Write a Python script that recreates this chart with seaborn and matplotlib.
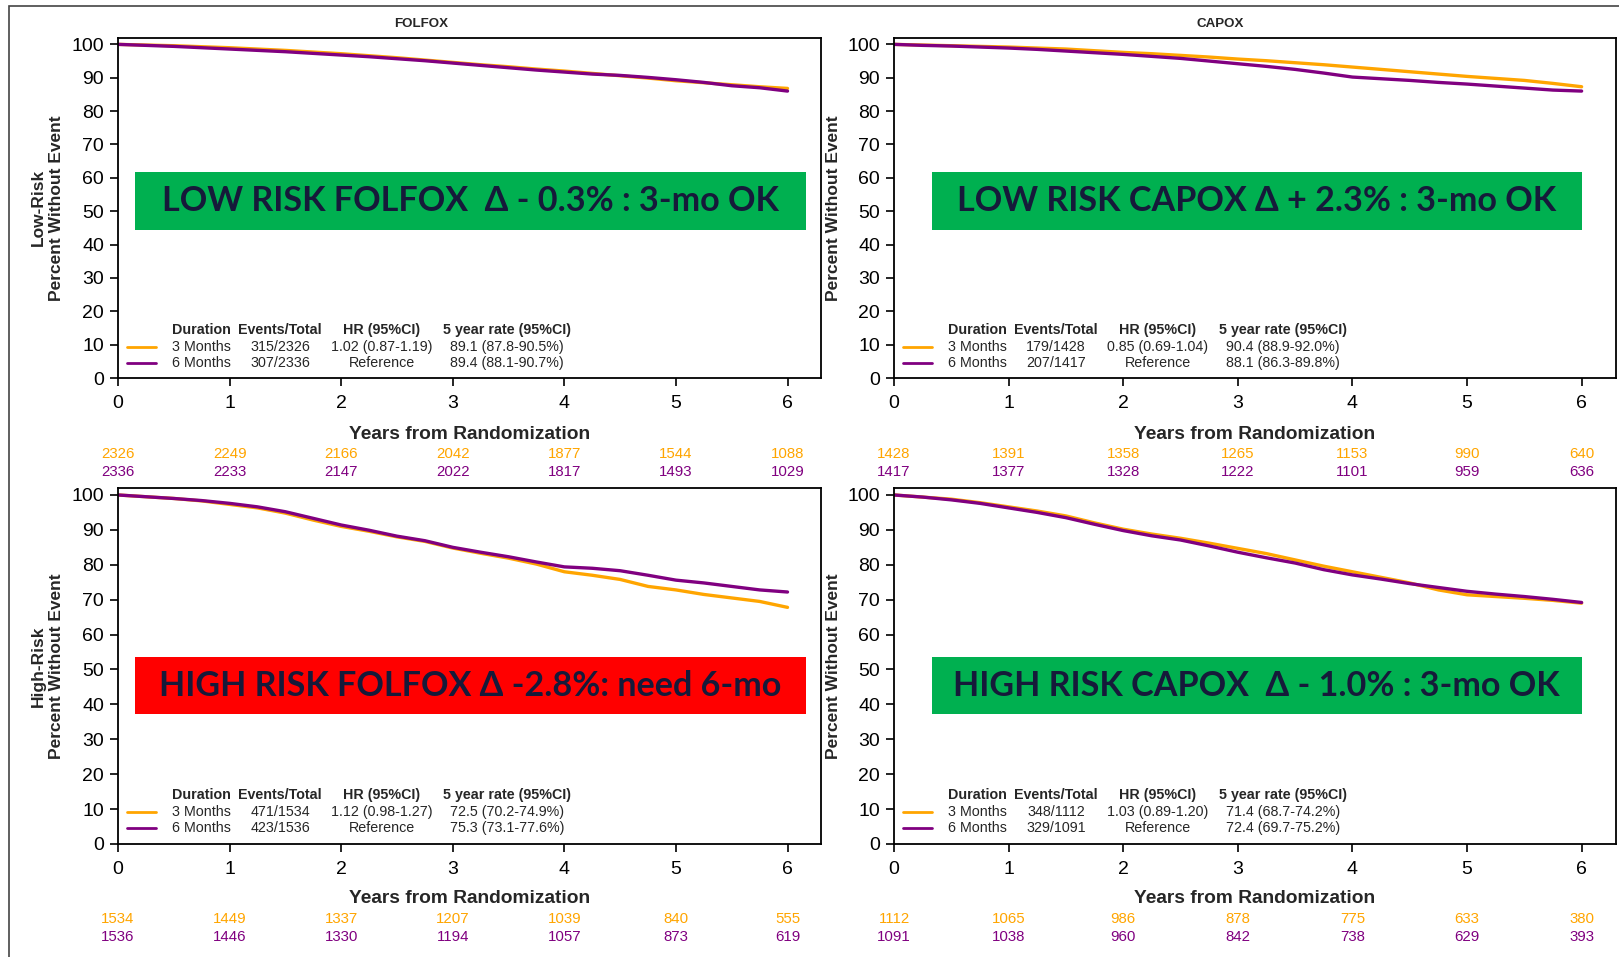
import matplotlib
matplotlib.use("Agg")
import matplotlib.pyplot as plt
from matplotlib.patches import Rectangle
import seaborn as sns

# survival, every quarter year
years = [0, 0.25, 0.5, 0.75, 1, 1.25, 1.5, 1.75, 2, 2.25, 2.5, 2.75, 3,
         3.25, 3.5, 3.75, 4, 4.25, 4.5, 4.75, 5, 5.25, 5.5, 5.75, 6]

folfox_low_3mo = [100, 99.8, 99.6, 99.3, 99.0, 98.6, 98.2, 97.7, 97.2, 96.6, 96.0, 95.3, 94.6,
                  93.9, 93.3, 92.6, 92.0, 91.3, 90.6, 89.9, 89.1, 88.5, 87.9, 87.3, 86.8]
folfox_low_6mo = [100, 99.7, 99.4, 99.0, 98.6, 98.2, 97.8, 97.3, 96.8, 96.3, 95.7, 95.1, 94.4,
                  93.7, 93.0, 92.3, 91.7, 91.1, 90.7, 90.1, 89.4, 88.6, 87.6, 87.0, 86.0]
capox_low_3mo = [100, 99.8, 99.6, 99.4, 99.2, 98.9, 98.6, 98.1, 97.6, 97.2, 96.7, 96.2, 95.6,
                 95.1, 94.5, 93.9, 93.2, 92.5, 91.8, 91.1, 90.4, 89.8, 89.2, 88.3, 87.3]
capox_low_6mo = [100, 99.7, 99.5, 99.2, 98.9, 98.5, 98.0, 97.5, 97.0, 96.4, 95.8, 95.0, 94.2,
                 93.4, 92.5, 91.4, 90.2, 89.7, 89.2, 88.6, 88.1, 87.5, 86.9, 86.3, 86.0]
folfox_high_3mo = [100, 99.5, 99.0, 98.3, 97.3, 96.3, 94.8, 92.8, 91.0, 89.6, 88.0, 86.7, 84.8,
                   83.3, 81.9, 80.2, 78.0, 77.0, 75.8, 73.8, 72.8, 71.5, 70.5, 69.5, 67.8]
folfox_high_6mo = [100, 99.5, 99.0, 98.4, 97.6, 96.6, 95.2, 93.3, 91.4, 89.9, 88.2, 86.9, 85.0,
                   83.6, 82.3, 80.8, 79.4, 79.0, 78.3, 77.0, 75.6, 74.8, 73.8, 72.8, 72.2]
capox_high_3mo = [100, 99.4, 98.8, 97.8, 96.6, 95.4, 94.0, 92.0, 90.2, 88.8, 87.6, 86.2, 84.7,
                  83.2, 81.4, 79.6, 78.0, 76.4, 74.8, 72.8, 71.4, 70.9, 70.4, 69.8, 69.0]
capox_high_6mo = [100, 99.4, 98.6, 97.6, 96.3, 95.0, 93.5, 91.6, 89.8, 88.3, 87.1, 85.4, 83.6,
                  82.0, 80.5, 78.6, 77.1, 75.9, 74.6, 73.5, 72.4, 71.6, 70.9, 70.1, 69.2]

# numbers at risk at years 0..6
risk_years = [0, 1, 2, 3, 4, 5, 6]
folfox_low_risk3 = [2326, 2249, 2166, 2042, 1877, 1544, 1088]
folfox_low_risk6 = [2336, 2233, 2147, 2022, 1817, 1493, 1029]
capox_low_risk3 = [1428, 1391, 1358, 1265, 1153, 990, 640]
capox_low_risk6 = [1417, 1377, 1328, 1222, 1101, 959, 636]
folfox_high_risk3 = [1534, 1449, 1337, 1207, 1039, 840, 555]
folfox_high_risk6 = [1536, 1446, 1330, 1194, 1057, 873, 619]
capox_high_risk3 = [1112, 1065, 986, 878, 775, 633, 380]
capox_high_risk6 = [1091, 1038, 960, 842, 738, 629, 393]

table_header = ["Duration", "Events/Total", "HR (95%CI)", "5 year rate (95%CI)"]
folfox_low_rows = [["3 Months", "315/2326", "1.02 (0.87-1.19)", "89.1 (87.8-90.5%)"],
                   ["6 Months", "307/2336", "Reference", "89.4 (88.1-90.7%)"]]
capox_low_rows = [["3 Months", "179/1428", "0.85 (0.69-1.04)", "90.4 (88.9-92.0%)"],
                  ["6 Months", "207/1417", "Reference", "88.1 (86.3-89.8%)"]]
folfox_high_rows = [["3 Months", "471/1534", "1.12 (0.98-1.27)", "72.5 (70.2-74.9%)"],
                    ["6 Months", "423/1536", "Reference", "75.3 (73.1-77.6%)"]]
capox_high_rows = [["3 Months", "348/1112", "1.03 (0.89-1.20)", "71.4 (68.7-74.2%)"],
                   ["6 Months", "329/1091", "Reference", "72.4 (69.7-75.2%)"]]

ORANGE = "#FFA500"
PURPLE = "#800080"
GREEN = "#00B050"
RED = "#FF0000"
NAVY = "#161A3A"

sns.set_style("ticks")
plt.rcParams["font.family"] = ["Liberation Sans", "DejaVu Sans"]

W, H = 1619, 957
fig = plt.figure(figsize=(W / 100, H / 100), dpi=100)

# column offsets of the little table, in pixels from the axes' left edge
col_px = [83, 162, 264, 389]
line_px = (9, 38)


def draw_panel(rect, s3, s6, r3, r6, rows, ylabel, label_x, box_text, box_color, box_x, box_y,
               row_y, risk_y, xlabel_y):
    ax = fig.add_axes(rect)
    sns.lineplot(x=years, y=s3, ax=ax, color=ORANGE, lw=2.4)
    sns.lineplot(x=years, y=s6, ax=ax, color=PURPLE, lw=2.4)

    ax.set_xlim(0, 6.3)
    ax.set_ylim(0, 102)
    ax.set_xticks(range(0, 7))
    ax.set_yticks(range(0, 101, 10))
    ax.tick_params(direction="out", length=6, width=1.2, labelsize=14, pad=4, colors="black")
    ax.tick_params(axis="x", pad=6)
    for s in ax.spines.values():
        s.set_visible(True)
        s.set_linewidth(1.3)
        s.set_color("black")

    ax.set_ylabel(ylabel, fontsize=12.5, fontweight="bold", linespacing=1.25)
    ax.yaxis.set_label_coords(label_x, 0.5)
    ax.set_xlabel("Years from Randomization", fontsize=13.8, fontweight="bold", va="center")
    ax.xaxis.set_label_coords(0.5, xlabel_y)

    # coloured verdict box
    ax.add_patch(Rectangle((box_x[0], box_y[0]), box_x[1] - box_x[0], box_y[1] - box_y[0],
                           transform=ax.transAxes, facecolor=box_color, edgecolor="none", zorder=3))
    ax.text((box_x[0] + box_x[1]) / 2, (box_y[0] + box_y[1]) / 2, box_text, transform=ax.transAxes,
            ha="center", va="center", fontsize=24.6, color=NAVY, zorder=4,
            family=["Lato", "DejaVu Sans"], fontweight="bold")

    # in-plot table
    ax_w = rect[2] * W
    for j, h in enumerate(table_header):
        ax.text(col_px[j] / ax_w, row_y[0], h, transform=ax.transAxes, ha="center", va="center",
                fontsize=10.3, fontweight="bold")
    for i, (row, c) in enumerate(zip(rows, [ORANGE, PURPLE])):
        y = row_y[i + 1]
        ax.plot([line_px[0] / ax_w, line_px[1] / ax_w], [y, y], color=c, lw=2, transform=ax.transAxes)
        for j, v in enumerate(row):
            ax.text(col_px[j] / ax_w, y, v, transform=ax.transAxes, ha="center", va="center", fontsize=10.3)

    # numbers at risk under the axis
    tr = ax.get_xaxis_transform()
    for x, a, b in zip(risk_years, r3, r6):
        ax.text(x, risk_y[0], str(a), transform=tr, ha="center", va="center", fontsize=10.8,
                color=ORANGE, clip_on=False)
        ax.text(x, risk_y[1], str(b), transform=tr, ha="center", va="center", fontsize=10.8,
                color=PURPLE, clip_on=False)
    return ax


top_b, top_h = 1 - 378 / H, 340.3 / H
bot_b, bot_h = 1 - 844 / H, 356 / H
left_l, left_w = 118 / W, 703 / W
right_l, right_w = 894 / W, 722 / W

draw_panel([left_l, top_b, left_w, top_h], folfox_low_3mo, folfox_low_6mo, folfox_low_risk3, folfox_low_risk6,
           folfox_low_rows, "Low-Risk\nPercent Without Event", -0.077,
           "LOW RISK FOLFOX  \u0394 - 0.3% : 3-mo OK", GREEN, (0.024, 0.979), (0.434, 0.604),
           (0.141, 0.090, 0.043), (-0.223, -0.276), -0.165)
draw_panel([right_l, top_b, right_w, top_h], capox_low_3mo, capox_low_6mo, capox_low_risk3, capox_low_risk6,
           capox_low_rows, "Percent Without Event", -0.073,
           "LOW RISK CAPOX \u0394 + 2.3% : 3-mo OK", GREEN, (0.052, 0.953), (0.434, 0.604),
           (0.141, 0.090, 0.043), (-0.223, -0.276), -0.165)
draw_panel([left_l, bot_b, left_w, bot_h], folfox_high_3mo, folfox_high_6mo, folfox_high_risk3, folfox_high_risk6,
           folfox_high_rows, "High-Risk\nPercent Without Event", -0.077,
           "HIGH RISK FOLFOX \u0394 -2.8%: need 6-mo", RED, (0.024, 0.979), (0.364, 0.526),
           (0.138, 0.089, 0.044), (-0.211, -0.261), -0.152)
draw_panel([right_l, bot_b, right_w, bot_h], capox_high_3mo, capox_high_6mo, capox_high_risk3, capox_high_risk6,
           capox_high_rows, "Percent Without Event", -0.073,
           "HIGH RISK CAPOX  \u0394 - 1.0% : 3-mo OK", GREEN, (0.052, 0.953), (0.364, 0.526),
           (0.138, 0.089, 0.044), (-0.211, -0.261), -0.152)

fig.text(421 / W, 1 - 24 / H, "FOLFOX", ha="center", va="center", fontsize=9.6, fontweight="bold")
fig.text(1220 / W, 1 - 24 / H, "CAPOX", ha="center", va="center", fontsize=9.6, fontweight="bold")

# thin frame around the slide
fig.add_artist(Rectangle((9 / W, -0.05), 1.1, 1.05 - 6 / H, transform=fig.transFigure,
                         fill=False, edgecolor="#444444", lw=1.2))

fig.savefig("out.png", dpi=100)
